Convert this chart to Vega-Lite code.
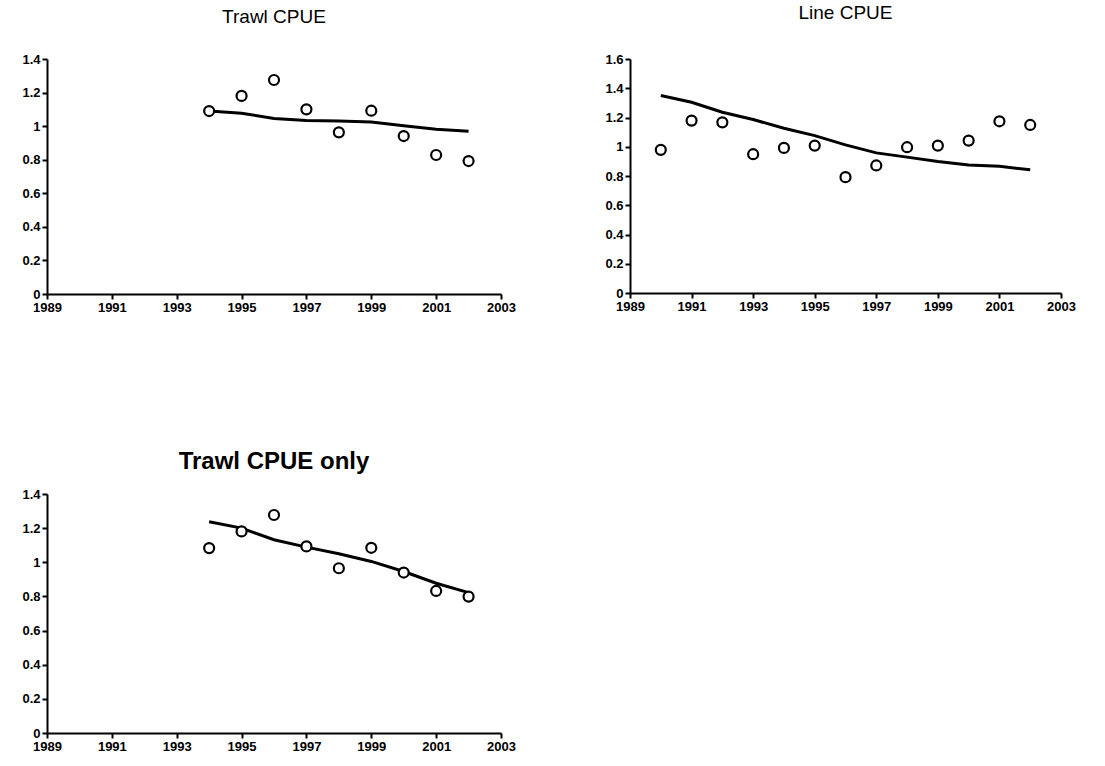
{
  "$schema": "https://vega.github.io/schema/vega-lite/v6.json",
  "padding": {"left": 14, "top": 4, "right": 5, "bottom": 5},
  "background": "white",
  "config": {
    "view": {"stroke": null},
    "font": "Liberation Sans",
    "axis": {
      "domainColor": "black", "domainWidth": 2, "tickColor": "black", "tickWidth": 2, "tickSize": 5,
      "labelColor": "black", "labelFont": "Liberation Sans", "labelFontWeight": "bold", "labelFontSize": 13,
      "labelFlush": false, "labelOverlap": false, "grid": false, "title": null, "format": "~g"
    },
    "title": {"font": "Liberation Sans", "color": "black", "fontWeight": "normal", "fontSize": 19, "anchor": "middle"}
  },
  "datasets": {
    "cpue": [
      {"panel": "t", "year": 1994, "obs": 1.09, "fit": 1.09},
      {"panel": "t", "year": 1995, "obs": 1.18, "fit": 1.077},
      {"panel": "t", "year": 1996, "obs": 1.275, "fit": 1.046},
      {"panel": "t", "year": 1997, "obs": 1.10, "fit": 1.033},
      {"panel": "t", "year": 1998, "obs": 0.963, "fit": 1.03},
      {"panel": "t", "year": 1999, "obs": 1.092, "fit": 1.025},
      {"panel": "t", "year": 2000, "obs": 0.941, "fit": 1.002},
      {"panel": "t", "year": 2001, "obs": 0.828, "fit": 0.982},
      {"panel": "t", "year": 2002, "obs": 0.792, "fit": 0.97},
      {"panel": "l", "year": 1990, "obs": 0.979, "fit": 1.35},
      {"panel": "l", "year": 1991, "obs": 1.179, "fit": 1.304},
      {"panel": "l", "year": 1992, "obs": 1.167, "fit": 1.236},
      {"panel": "l", "year": 1993, "obs": 0.949, "fit": 1.186},
      {"panel": "l", "year": 1994, "obs": 0.992, "fit": 1.127},
      {"panel": "l", "year": 1995, "obs": 1.008, "fit": 1.076},
      {"panel": "l", "year": 1996, "obs": 0.792, "fit": 1.013},
      {"panel": "l", "year": 1997, "obs": 0.872, "fit": 0.958},
      {"panel": "l", "year": 1998, "obs": 0.997, "fit": 0.929},
      {"panel": "l", "year": 1999, "obs": 1.008, "fit": 0.899},
      {"panel": "l", "year": 2000, "obs": 1.042, "fit": 0.876},
      {"panel": "l", "year": 2001, "obs": 1.174, "fit": 0.867},
      {"panel": "l", "year": 2002, "obs": 1.149, "fit": 0.842},
      {"panel": "o", "year": 1994, "obs": 1.083, "fit": 1.237},
      {"panel": "o", "year": 1995, "obs": 1.181, "fit": 1.2},
      {"panel": "o", "year": 1996, "obs": 1.277, "fit": 1.132},
      {"panel": "o", "year": 1997, "obs": 1.093, "fit": 1.089},
      {"panel": "o", "year": 1998, "obs": 0.965, "fit": 1.05},
      {"panel": "o", "year": 1999, "obs": 1.085, "fit": 1.005},
      {"panel": "o", "year": 2000, "obs": 0.94, "fit": 0.946},
      {"panel": "o", "year": 2001, "obs": 0.832, "fit": 0.877},
      {"panel": "o", "year": 2002, "obs": 0.799, "fit": 0.822}
    ]
  },
  "columns": 2,
  "spacing": {"row": 136, "column": 88},
  "concat": [
    {
      "title": {"text": "Trawl CPUE", "offset": 26},
      "width": 454, "height": 235,
      "data": {"name": "cpue"},
      "transform": [{"filter": "datum.panel === 't'"}],
      "encoding": {
        "x": {"field": "year", "type": "quantitative", "scale": {"domain": [1989, 2003], "nice": false, "zero": false},
              "axis": {"values": [1989, 1991, 1993, 1995, 1997, 1999, 2001, 2003], "format": "d"}},
        "y": {"type": "quantitative", "scale": {"domain": [0, 1.4], "nice": false},
              "axis": {"values": [0, 0.2, 0.4, 0.6, 0.8, 1, 1.2, 1.4], "minExtent": 33}}
      },
      "layer": [
        {"mark": {"type": "line", "color": "black", "strokeWidth": 3}, "encoding": {"y": {"field": "fit", "type": "quantitative"}}},
        {"mark": {"type": "point", "shape": "circle", "color": "black", "fill": "white", "filled": false, "opacity": 1, "size": 100, "strokeWidth": 2.2}, "encoding": {"y": {"field": "obs", "type": "quantitative"}}}
      ]
    },
    {
      "title": {"text": "Line CPUE", "offset": 30},
      "width": 431, "height": 234,
      "data": {"name": "cpue"},
      "transform": [{"filter": "datum.panel === 'l'"}],
      "encoding": {
        "x": {"field": "year", "type": "quantitative", "scale": {"domain": [1989, 2003], "nice": false, "zero": false},
              "axis": {"values": [1989, 1991, 1993, 1995, 1997, 1999, 2001, 2003], "format": "d"}},
        "y": {"type": "quantitative", "scale": {"domain": [0, 1.6], "nice": false},
              "axis": {"values": [0, 0.2, 0.4, 0.6, 0.8, 1, 1.2, 1.4, 1.6]}}
      },
      "layer": [
        {"mark": {"type": "line", "color": "black", "strokeWidth": 3}, "encoding": {"y": {"field": "fit", "type": "quantitative"}}},
        {"mark": {"type": "point", "shape": "circle", "color": "black", "fill": "white", "filled": false, "opacity": 1, "size": 100, "strokeWidth": 2.2}, "encoding": {"y": {"field": "obs", "type": "quantitative"}}}
      ]
    },
    {
      "title": {"text": "Trawl CPUE only", "offset": 14, "fontSize": 24, "fontWeight": "bold"},
      "width": 454, "height": 239,
      "data": {"name": "cpue"},
      "transform": [{"filter": "datum.panel === 'o'"}],
      "encoding": {
        "x": {"field": "year", "type": "quantitative", "scale": {"domain": [1989, 2003], "nice": false, "zero": false},
              "axis": {"values": [1989, 1991, 1993, 1995, 1997, 1999, 2001, 2003], "format": "d"}},
        "y": {"type": "quantitative", "scale": {"domain": [0, 1.4], "nice": false},
              "axis": {"values": [0, 0.2, 0.4, 0.6, 0.8, 1, 1.2, 1.4], "minExtent": 33}}
      },
      "layer": [
        {"mark": {"type": "line", "color": "black", "strokeWidth": 3}, "encoding": {"y": {"field": "fit", "type": "quantitative"}}},
        {"mark": {"type": "point", "shape": "circle", "color": "black", "fill": "white", "filled": false, "opacity": 1, "size": 100, "strokeWidth": 2.2}, "encoding": {"y": {"field": "obs", "type": "quantitative"}}}
      ]
    }
  ]
}
